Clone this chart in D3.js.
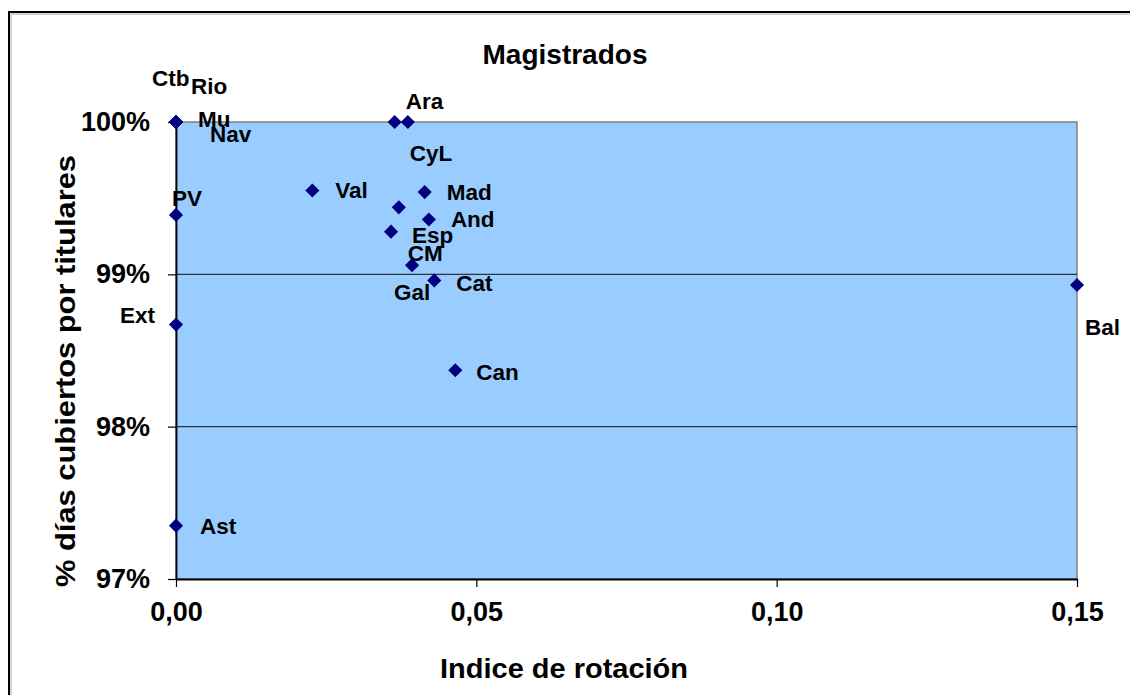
<!DOCTYPE html>
<html>
<head>
<meta charset="utf-8">
<script src="https://cdn.jsdelivr.net/npm/d3@7"></script>
<style>
  body { margin: 0; background: #fff; }
  text { font-family: "Liberation Sans", Arial, sans-serif; font-weight: bold; fill: #000; }
</style>
</head>
<body>
<svg id="chart" width="1130" height="695"></svg>
<script>
// Chart data: regions, rotation index, % days covered by titulares
var names = ["Ctb", "Rio", "Mu", "Nav", "PV", "Ext", "Ast", "Val", "Ara", "CyL",
             "Mad", "CM", "And", "Esp", "Gal", "Cat", "Can", "Bal"];
var rotation = [0, 0, 0, 0, 0, 0, 0, 0.0227, 0.0386, 0.0364,
                0.0414, 0.0371, 0.0421, 0.0358, 0.0393, 0.0430, 0.0465, 0.150];
var coverage = [1, 1, 1, 1, 0.9939, 0.9867, 0.9735, 0.9955, 1, 1,
                0.9954, 0.9944, 0.9936, 0.9928, 0.9906, 0.9896, 0.9837, 0.9893];
var xTicks = [0, 0.05, 0.10, 0.15];
var yTicks = [0.97, 0.98, 0.99, 1.00];

// label placement (dx, dy of text centre from the marker)
var labelOffsets = {
  Ctb: [-24, -44], Rio: [15, -36], Mu: [22, -3], Nav: [34, 12],
  PV: [-4, -17], Ext: [-56, -9], Ast: [24, 0], Val: [23, 0],
  Ara: [-2, -21], CyL: [15, 31], Mad: [22, 0], CM: [9, 46],
  And: [22, 0], Esp: [21, 3], Gal: [-18, 27], Cat: [22, 3],
  Can: [21, 2], Bal: [8, 42]
};

var svg = d3.select("#chart"),
  margin = {left: 176, right: 1130 - 1077, top: 122, bottom: 695 - 579},
  width = 1130 - margin.left - margin.right,
  height = 695 - margin.top - margin.bottom;

var points = names.map(function (n, i) {
  return {name: n, x: rotation[i], y: coverage[i]};
});

// outer chart frame
svg.append("rect")
  .attr("x", 9).attr("y", 12)
  .attr("width", 1140).attr("height", 700)
  .attr("fill", "none").attr("stroke", "#000").attr("stroke-width", 2);
svg.append("path")
  .attr("d", "M11,1140V14H1140")
  .attr("fill", "none").attr("stroke", "#aaa").attr("stroke-width", 1);

var x = d3.scaleLinear().domain([0, 0.15]).range([0, width]);
var y = d3.scaleLinear().domain([0.97, 1.00]).range([height, 0]);

var g = svg.append("g")
  .attr("transform", "translate(" + margin.left + "," + margin.top + ")");

// plot area
g.append("rect")
  .attr("width", width).attr("height", height)
  .attr("fill", "#99ccff")
  .attr("stroke", "#808080").attr("stroke-width", 1.5);

// gridlines
g.selectAll(".grid")
  .data([0.98, 0.99])
  .enter().append("line")
  .attr("x1", 0).attr("x2", width)
  .attr("y1", d => y(d)).attr("y2", d => y(d))
  .attr("stroke", "#333").attr("stroke-width", 1.2);

// axes
var xAxis = g.append("g")
  .attr("transform", "translate(0," + height + ")")
  .call(d3.axisBottom(x).tickValues(xTicks).tickSizeInner(8).tickSizeOuter(0).tickPadding(10)
    .tickFormat(d => d3.format(".2f")(d).replace(".", ",")));
var yAxis = g.append("g")
  .call(d3.axisLeft(y).tickValues(yTicks).tickSizeInner(8).tickSizeOuter(0).tickPadding(18)
    .tickFormat(d3.format(".0%")));

[xAxis, yAxis].forEach(function (a) {
  a.select(".domain").attr("stroke", "#000").attr("stroke-width", 1.8);
  a.selectAll(".tick line").attr("stroke", "#000").attr("stroke-width", 1.2);
  a.selectAll(".tick text").attr("font-size", 27).attr("font-family", null);
});
xAxis.selectAll(".tick text").attr("dy", "0.88em");

// markers
var diamond = d3.symbol().type(d3.symbolSquare).size(100);
g.selectAll(".pt")
  .data(points)
  .enter().append("path")
  .attr("d", diamond)
  .attr("transform", d => "translate(" + x(d.x) + "," + y(d.y) + ") rotate(45)")
  .attr("fill", "#000080");

// data labels
g.selectAll(".lbl")
  .data(points)
  .enter().append("text")
  .attr("x", d => x(d.x) + labelOffsets[d.name][0])
  .attr("y", d => y(d.y) + labelOffsets[d.name][1])
  .attr("dy", "0.35em")
  .attr("font-size", 22.5)
  .text(d => d.name);

// titles
svg.append("text")
  .attr("x", 565).attr("y", 64)
  .attr("text-anchor", "middle").attr("font-size", 27)
  .attr("textLength", 165).attr("lengthAdjust", "spacingAndGlyphs")
  .text("Magistrados");

svg.append("text")
  .attr("x", 564).attr("y", 678)
  .attr("text-anchor", "middle").attr("font-size", 27)
  .attr("textLength", 248).attr("lengthAdjust", "spacingAndGlyphs")
  .text("Indice de rotación");

svg.append("text")
  .attr("transform", "translate(75,371) rotate(-90)")
  .attr("text-anchor", "middle").attr("font-size", 27)
  .attr("textLength", 432).attr("lengthAdjust", "spacingAndGlyphs")
  .text("% días cubiertos por titulares");
</script>
</body>
</html>
